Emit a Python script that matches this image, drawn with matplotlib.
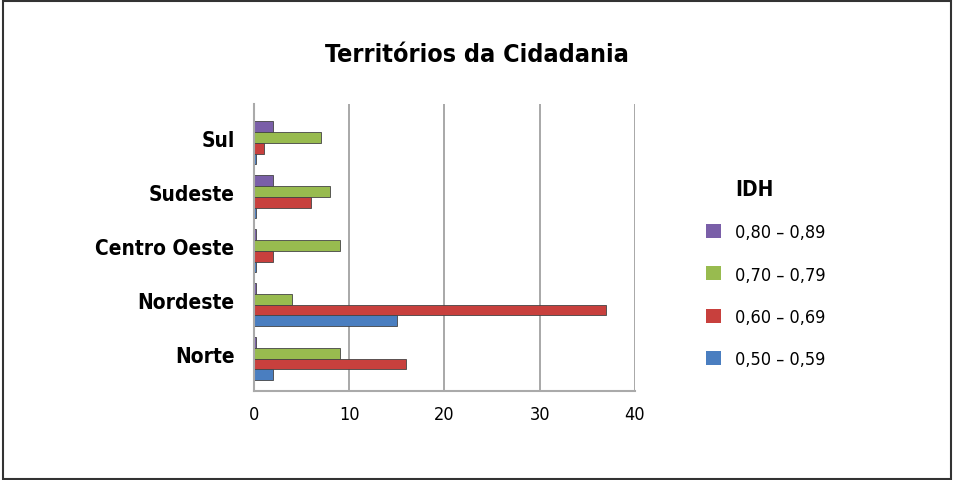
import numpy as np
import matplotlib.pyplot as plt
import matplotlib.transforms as mtransforms
from matplotlib.patches import Rectangle, Patch

regions = ["Norte", "Nordeste", "Centro Oeste", "Sudeste", "Sul"]
idh_050 = [2, 15, 0, 0, 0]
idh_060 = [16, 37, 2, 6, 1]
idh_070 = [9, 4, 9, 8, 7]
idh_080 = [0, 0, 0, 2, 2]
series_labels = ["0,80 – 0,89", "0,70 – 0,79", "0,60 – 0,69", "0,50 – 0,59"]
xticks = [0, 10, 20, 30, 40]

colors = {"080": "#7a5fa8", "070": "#98bb4f", "060": "#c8403d", "050": "#4a7ec0"}

fam = "DejaVu Sans"
cond = "condensed"

fig = plt.figure(figsize=(9.54, 4.81), dpi=100)
fig.patches.append(Rectangle((0.003, 0.002), 0.994, 0.994, transform=fig.transFigure,
                             fill=False, edgecolor="#333333", linewidth=1.5))

ax = fig.add_axes([254 / 954, 1 - 392 / 481, (635 - 254) / 954, (392 - 105) / 481])

y = np.arange(len(regions))
h = 0.2
series = [(idh_080, "080", 1.5), (idh_070, "070", 0.5), (idh_060, "060", -0.5), (idh_050, "050", -1.5)]
for vals, key, off in series:
    ax.barh(y + off * h, np.maximum(vals, 0.25), height=h, color=colors[key],
            edgecolor="#444444", linewidth=0.6)

ax.set_xlim(0, 40)
ax.set_ylim(-0.6, 4.72)
ax.set_xticks(xticks)
ax.set_xticklabels([str(t) for t in xticks], family=fam, stretch=cond, fontsize=13)
ax.set_yticks(y)
ax.set_yticklabels(regions, family=fam, stretch=cond, fontsize=15, fontweight="bold")
ax.tick_params(length=0, pad=10)
ax.tick_params(axis="y", pad=14)
shift = mtransforms.ScaledTranslation(0, 5 / 100, fig.dpi_scale_trans)
for lbl in ax.get_yticklabels():
    lbl.set_transform(lbl.get_transform() + shift)
for t in xticks[1:]:
    ax.axvline(t, color="#9a9a9a", linewidth=1.2, zorder=0)
for s in ["top", "right"]:
    ax.spines[s].set_visible(False)
ax.spines["left"].set_color("#aaaaaa")
ax.spines["bottom"].set_color("#aaaaaa")
ax.spines["left"].set_linewidth(1.5)
ax.spines["bottom"].set_linewidth(1.5)

fig.text(0.5, 1 - 55 / 481, "Territórios da Cidadania", ha="center", va="center",
         family=fam, stretch=cond, fontsize=18, fontweight="bold")

fig.text(735 / 954, 1 - 190 / 481, "IDH", ha="left", va="center",
         family=fam, stretch=cond, fontsize=15, fontweight="bold")
handles = [Patch(facecolor=colors[k], edgecolor="none") for k in ["080", "070", "060", "050"]]
fig.legend(handles, series_labels, loc="upper left", bbox_to_anchor=(690 / 954, 1 - 208 / 481),
           frameon=False, prop={"family": fam, "stretch": cond, "size": 13},
           handlelength=0.8, handleheight=0.8, labelspacing=1.35, handletextpad=0.8)

fig.savefig("out.png", dpi=100)
